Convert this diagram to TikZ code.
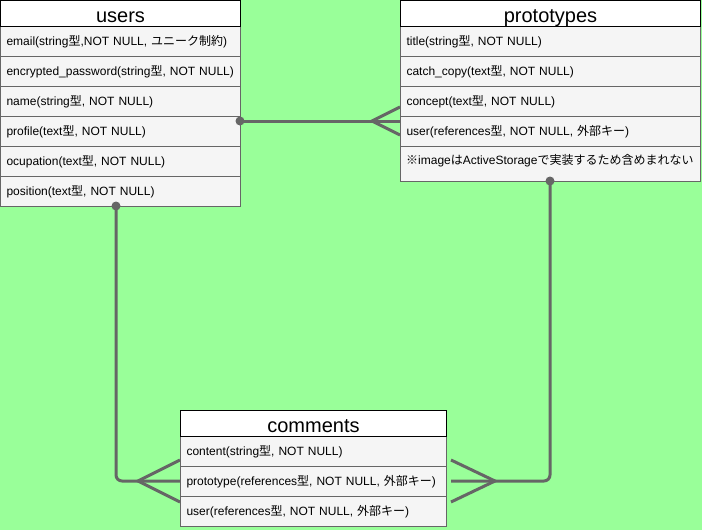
\documentclass[tikz,border=0pt]{standalone}
\usepackage{fontspec}
\setmainfont{Liberation Sans}
\newfontfamily\jpfont{Noto Sans CJK JP}
\newcommand\JP[1]{{\jpfont #1}}
\definecolor{bg}{HTML}{99FF99}
\definecolor{rowfill}{HTML}{F5F5F5}
\definecolor{lc}{HTML}{666666}
\begin{document}
\begin{tikzpicture}[x=1pt,y=-1pt,
  tbl title/.style={draw=black, line width=1pt, fill=white, minimum height=26pt, anchor=north west,
    inner sep=0pt, text height=18pt, text depth=0pt, font=\fontsize{20}{24}\selectfont},
  tbl row/.style={draw=lc, line width=1pt, fill=rowfill, minimum height=30pt, anchor=north west,
    inner xsep=6pt, inner ysep=0pt, text height=8.5pt, text depth=0pt, align=left,
    font=\fontsize{12}{14}\selectfont},
  conn/.style={draw=lc, line width=3pt, rounded corners=6pt},
  foot/.style={draw=lc, line width=3pt},
  dotmark/.style={fill=lc}
]
\useasboundingbox[fill=bg] (0,0) rectangle (702,530);

% users
\node[tbl row, text width=228pt] (u1) at (0,26) {email(string\JP{型},NOT NULL, \JP{ユニーク制約})};
\node[tbl row, text width=228pt] (u2) at (0,56) {encrypted\_password(string\JP{型}, NOT NULL)};
\node[tbl row, text width=228pt] (u3) at (0,86) {name(string\JP{型}, NOT NULL)};
\node[tbl row, text width=228pt] (u4) at (0,116) {profile(text\JP{型}, NOT NULL)};
\node[tbl row, text width=228pt] (u5) at (0,146) {ocupation(text\JP{型}, NOT NULL)};
\node[tbl row, text width=228pt] (u6) at (0,176) {position(text\JP{型}, NOT NULL)};
\node[tbl title, minimum width=240pt] (ut) at (0,0) {users};

% prototypes
\node[tbl row, text width=288pt] (p1) at (400,26) {title(string\JP{型}, NOT NULL)};
\node[tbl row, text width=288pt] (p2) at (400,56) {catch\_copy(text\JP{型}, NOT NULL)};
\node[tbl row, text width=288pt] (p3) at (400,86) {concept(text\JP{型}, NOT NULL)};
\node[tbl row, text width=288pt] (p4) at (400,116) {user(references\JP{型}, NOT NULL, \JP{外部キー})};
\node[tbl row, text width=288pt, minimum height=35pt] (p5) at (400,146) {};
\node[anchor=base west, inner xsep=6pt, inner ysep=0pt, font=\fontsize{12}{14}\selectfont] (p5t) at (400,164)
  {\JP{※}image\JP{は}ActiveStorage\JP{で実装するため含めまれない}};
\node[tbl title, minimum width=300pt] (pt) at (400,0) {prototypes};

% comments
\node[tbl row, text width=254pt] (c1) at (180,436) {content(string\JP{型}, NOT NULL)};
\node[tbl row, text width=254pt] (c2) at (180,466) {prototype(references\JP{型}, NOT NULL, \JP{外部キー})};
\node[tbl row, text width=254pt] (c3) at (180,496) {user(references\JP{型}, NOT NULL, \JP{外部キー})};
\node[tbl title, minimum width=266pt] (ct) at (180,410) {comments};

% connector users -> prototypes
\coordinate (ua) at (240,121);
\coordinate (pa) at (400,121);
\coordinate (pfoot) at (372,121);
\draw[foot] (ua) -- (pa);
\draw[foot] (400,107) -- (pfoot) -- (400,135);
\fill[dotmark] (ua) circle (4.5pt);

% connector users -> comments
\coordinate (ub) at (116,206);
\coordinate (cl) at (180,481);
\coordinate (clfoot) at (138,481);
\draw[conn] (ub) -- (116,481) -- (cl);
\draw[foot] (180,460) -- (clfoot) -- (180,502);
\fill[dotmark] (ub) circle (4.5pt);

% connector prototypes -> comments
\coordinate (pb) at (550,181);
\coordinate (cr) at (451,481);
\coordinate (crfoot) at (495,481);
\draw[conn] (pb) -- (550,481) -- (cr);
\draw[foot] (451,460) -- (crfoot) -- (451,502);
\fill[dotmark] (pb) circle (4.5pt);
\end{tikzpicture}
\end{document}
